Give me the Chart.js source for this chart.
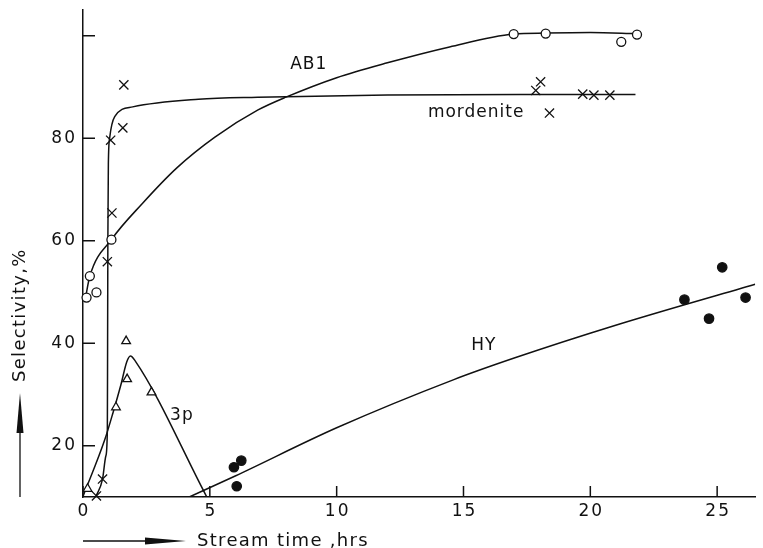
<!DOCTYPE html>
<html>
<head>
<meta charset="utf-8">
<script src="https://cdn.jsdelivr.net/npm/chart.js@4/dist/chart.umd.min.js"></script>
<style>
html, body { margin: 0; padding: 0; background: #fff; }
</style>
</head>
<body>
<canvas id="canvasSelectivity" width="763" height="548"></canvas>
<script>
"use strict";

// axes
var xTicks = [0, 5, 10, 15, 20, 25];
var yTicks = [20, 40, 60, 80, 100];
var yTickLabels = ['20', '40', '60', '80', ''];

// AB1 (open circles)
var ab1Hours = [0.14, 0.27, 0.53, 1.12, 16.98, 18.24, 21.22, 21.84];
var ab1Values = [48.9, 53.1, 49.9, 60.2, 100.3, 100.4, 98.8, 100.2];
var ab1CurveHours = [0.1, 0.27, 1.12, 2.35, 3.7, 5.2, 6.9, 8, 10, 12, 14.45, 16.98, 18.24, 20, 21.84];
var ab1CurveValues = [48.9, 53.1, 60.2, 67.3, 74.2, 80.2, 85.5, 88, 91.8, 94.7, 97.8, 100.3, 100.5, 100.6, 100.4];

// mordenite (crosses)
var mordHours = [0.53, 0.77, 0.96, 1.14, 1.09, 1.57, 1.61, 17.85, 18.04, 18.39, 19.7, 20.14, 20.77];
var mordValues = [10.2, 13.5, 55.9, 65.4, 79.6, 82.0, 90.4, 89.3, 91.0, 84.9, 88.6, 88.4, 88.4];
var mordCurveHours = [0.5, 0.77, 0.9, 0.96, 0.97, 0.98, 1.0, 1.05, 1.25, 1.96, 4.55, 6.88, 12, 18, 21.78];
var mordCurveValues = [10, 13.5, 18, 23, 40, 60, 75, 80, 84.2, 86.1, 87.6, 88, 88.4, 88.5, 88.5];

// 3p (open triangles)
var p3Hours = [0.18, 1.30, 1.74, 1.70, 2.70];
var p3Values = [11.6, 27.5, 33.0, 40.4, 30.4];
var p3CurveHours = [0, 0.86, 1.18, 1.51, 1.72, 1.87, 2.05, 4.88];
var p3CurveValues = [10.1, 21.2, 26.4, 32.2, 36.3, 37.5, 36.6, 10];

// HY (filled dots)
var hyHours = [5.95, 6.24, 6.06, 23.71, 24.68, 25.2, 26.12];
var hyValues = [15.8, 17.1, 12.1, 48.5, 44.8, 54.8, 48.9];
var hyCurveHours = [4.19, 6, 10, 14.62, 17, 21, 26.5];
var hyCurveValues = [10, 14.1, 23.5, 32.9, 37.1, 43.5, 51.5];

var ink = '#111';

function Points(hours, values) {
	return hours.map(function (h, i) { return { x: h, y: values[i] }; });
}

function CurveSet(hours, values) {
	return {
		type: 'line',
		data: Points(hours, values),
		borderColor: ink,
		borderWidth: 1.5,
		pointRadius: 0,
		fill: false,
		cubicInterpolationMode: 'monotone',
		order: 2
	};
}

function MarkerSet(hours, values, style, fillColor, radius) {
	return {
		type: 'scatter',
		data: Points(hours, values),
		pointStyle: style,
		pointRadius: radius,
		pointBorderColor: ink,
		pointBackgroundColor: fillColor,
		pointBorderWidth: 1.3,
		borderColor: ink,
		backgroundColor: fillColor,
		showLine: false,
		clip: false,
		order: 1
	};
}

// ticks, labels, titles and arrows drawn inward like the original plot
var annotate = {
	id: 'annotate',
	afterDraw: function (chart) {
		var ctx = chart.ctx;
		var xs = chart.scales.x;
		var ys = chart.scales.y;
		var area = chart.chartArea;

		ctx.save();
		ctx.strokeStyle = ink;
		ctx.fillStyle = ink;
		ctx.lineWidth = 1.5;

		ctx.beginPath();
		xTicks.forEach(function (v) {
			var px = xs.getPixelForValue(v);
			ctx.moveTo(px, area.bottom);
			ctx.lineTo(px, area.bottom - 11);
		});
		yTicks.forEach(function (v) {
			var py = ys.getPixelForValue(v);
			ctx.moveTo(area.left, py);
			ctx.lineTo(area.left + 12, py);
		});
		ctx.stroke();

		ctx.font = '17px "DejaVu Sans"';
		ctx.letterSpacing = '2px';
		ctx.textBaseline = 'middle';
		ctx.textAlign = 'center';
		xTicks.forEach(function (v) {
			ctx.fillText(String(v), xs.getPixelForValue(v) + 1, area.bottom + 15);
		});
		ctx.textAlign = 'right';
		yTicks.forEach(function (v, i) {
			ctx.fillText(yTickLabels[i], area.left - 6, ys.getPixelForValue(v));
		});

		// curve names
		ctx.textAlign = 'center';
		ctx.letterSpacing = '1px';
		ctx.fillText('AB1', xs.getPixelForValue(8.9), ys.getPixelForValue(94.3));
		ctx.fillText('mordenite', xs.getPixelForValue(15.5), ys.getPixelForValue(85));
		ctx.fillText('HY', xs.getPixelForValue(15.8), ys.getPixelForValue(39.5));
		ctx.fillText('3p', xs.getPixelForValue(3.9), ys.getPixelForValue(25.8));

		// axis titles
		ctx.font = '18px "DejaVu Sans"';
		ctx.letterSpacing = '1.3px';
		ctx.textAlign = 'left';
		ctx.fillText('Stream time ,hrs', 197, 541);

		ctx.save();
		ctx.translate(20, 382);
		ctx.rotate(-Math.PI / 2);
		ctx.fillText('Selectivity,%', 0, 0);
		ctx.restore();

		// arrows
		ctx.lineWidth = 1.3;
		ctx.beginPath();
		ctx.moveTo(83, 541);
		ctx.lineTo(150, 541);
		ctx.moveTo(20, 497);
		ctx.lineTo(20, 430);
		ctx.stroke();

		ctx.beginPath();
		ctx.moveTo(145, 537.5);
		ctx.lineTo(186, 541);
		ctx.lineTo(145, 544.5);
		ctx.closePath();
		ctx.fill();

		ctx.beginPath();
		ctx.moveTo(16.5, 433);
		ctx.lineTo(20, 393);
		ctx.lineTo(23.5, 433);
		ctx.closePath();
		ctx.fill();

		ctx.restore();
	}
};

const context = document.getElementById('canvasSelectivity');
const myChart = new Chart(context, {
	data: {
		datasets: [
			MarkerSet(ab1Hours, ab1Values, 'circle', '#fff', 4.5),
			MarkerSet(mordHours, mordValues, 'crossRot', ink, 6.5),
			MarkerSet(p3Hours, p3Values, 'triangle', '#fff', 5),
			MarkerSet(hyHours, hyValues, 'circle', ink, 4.7),
			CurveSet(ab1CurveHours, ab1CurveValues),
			CurveSet(mordCurveHours, mordCurveValues),
			CurveSet(p3CurveHours, p3CurveValues),
			CurveSet(hyCurveHours, hyCurveValues)
		]
	},
	options: {
		responsive: false,
		animation: false,
		events: [],
		layout: {
			padding: { left: 83, right: 0, top: 10, bottom: 51 }
		},
		plugins: {
			legend: { display: false },
			tooltip: { enabled: false }
		},
		scales: {
			x: {
				type: 'linear',
				min: 0,
				max: 26.5,
				ticks: { display: false },
				grid: { drawOnChartArea: false, drawTicks: false },
				border: { color: ink, width: 1.5 },
				afterFit: function (scale) { scale.height = 0; }
			},
			y: {
				type: 'linear',
				min: 10,
				max: 105,
				ticks: { display: false },
				grid: { drawOnChartArea: false, drawTicks: false },
				border: { color: ink, width: 1.5 },
				afterFit: function (scale) { scale.width = 0; }
			}
		}
	},
	plugins: [annotate]
});
</script>
</body>
</html>
